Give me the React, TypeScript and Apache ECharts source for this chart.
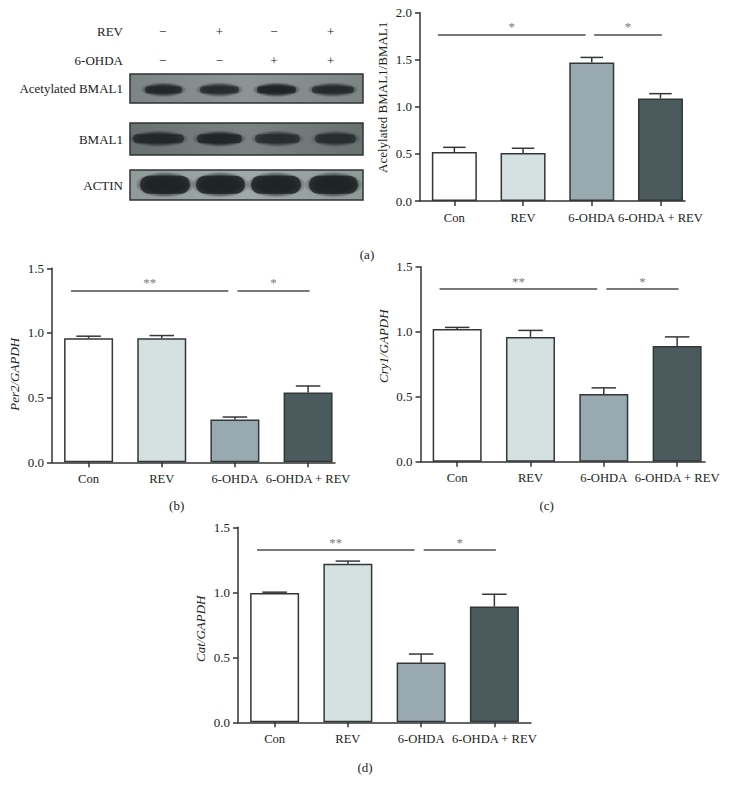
import React, { useEffect, useRef } from 'react';
import * as echarts from 'echarts';

// ---------- data ----------
const categories = ['Con', 'REV', '6-OHDA', '6-OHDA + REV'];
const barColors = ['#ffffff', '#d5e0e0', '#98a9af', '#4a5a5d'];
const catIndex = [0, 1, 2, 3];

const acetylMean = [0.52, 0.51, 1.47, 1.09];
const acetylErr = [0.05, 0.05, 0.055, 0.05];
const per2Mean = [0.96, 0.96, 0.33, 0.54];
const per2Err = [0.015, 0.02, 0.02, 0.05];
const cry1Mean = [1.02, 0.96, 0.52, 0.89];
const cry1Err = [0.013, 0.05, 0.048, 0.07];
const catMean = [0.995, 1.22, 0.46, 0.89];
const catErr = [0.006, 0.02, 0.065, 0.095];

const sigSpans = [[-0.24, 1.91], [2.035, 3.02]];
const sigLabelsA = ['*', '*'];
const sigLabelsBCD = ['**', '*'];

const blotLabels = ['Acetylated BMAL1', 'BMAL1', 'ACTIN'];
const revSigns = ['\u2212', '+', '\u2212', '+'];
const ohdaSigns = ['\u2212', '\u2212', '+', '+'];
const bandDarkness = [
  [0.85, 0.78, 0.95, 0.8],
  [0.85, 0.9, 0.72, 0.72],
  [1, 1, 1, 1],
];

const FONT = '"Liberation Serif", "Times New Roman", serif';
const AXIS = '#333';
const TEXT = '#222';
const SIG = '#7a7a7a';

type Panel = {
  mean: number[];
  err: number[];
  name: string;
  italic: boolean;
  yMax: number;
  sigY: number;
  sigLabels: string[];
  grid: { left: number; top: number; width: number; height: number };
  xMax: number;
  barWidth: number;
  namePad: number[];
};

const panels: Panel[] = [
  { mean: acetylMean, err: acetylErr, name: 'Acelylated BMAL1/BMAL1', italic: false, yMax: 2, sigY: 1.77, sigLabels: sigLabelsA,
    grid: { left: 420, top: 12.7, width: 265, height: 188.3 }, xMax: 3.357, barWidth: 45, namePad: [0, 0, 0, 19] },
  { mean: per2Mean, err: per2Err, name: 'Per2/GAPDH', italic: true, yMax: 1.5, sigY: 1.33, sigLabels: sigLabelsBCD,
    grid: { left: 52, top: 268.3, width: 283, height: 194 }, xMax: 3.368, barWidth: 49, namePad: [0, 18, 0, 0] },
  { mean: cry1Mean, err: cry1Err, name: 'Cry1/GAPDH', italic: true, yMax: 1.5, sigY: 1.33, sigLabels: sigLabelsBCD,
    grid: { left: 420.5, top: 266.7, width: 284.5, height: 195 }, xMax: 3.38, barWidth: 49, namePad: [0, 0, 0, 36] },
  { mean: catMean, err: catErr, name: 'Cat/GAPDH', italic: true, yMax: 1.5, sigY: 1.325, sigLabels: sigLabelsBCD,
    grid: { left: 238, top: 527.3, width: 293, height: 195 }, xMax: 3.5, barWidth: 49, namePad: [0, 8, 0, 0] },
];

function buildBlot(): any[] {
  const els: any[] = [];
  const blots = [
    { y: 74, h: 29, bg: ['#8c9593', '#7c8584'], bandY: 89.7, bandH: 9,
      lanes: [[143, 184], [198, 241], [255, 298], [310, 356]] },
    { y: 123, h: 32, bg: ['#7a8382', '#687170'], bandY: 138.7, bandH: 11,
      lanes: [[131, 186], [195, 244], [253, 302], [313, 358]] },
    { y: 170, h: 30, bg: ['#a0aaa8', '#909a98'], bandY: 184.7, bandH: 20,
      lanes: [[138, 192], [194, 247], [249, 303], [307, 360]] },
  ];
  blots.forEach((b, bi) => {
    els.push({
      type: 'rect',
      shape: { x: 130, y: b.y, width: 233, height: b.h },
      style: {
        fill: new echarts.graphic.LinearGradient(0, 0, 1, 0, [
          { offset: 0, color: b.bg[1] },
          { offset: 0.5, color: b.bg[0] },
          { offset: 1, color: b.bg[1] },
        ]),
        stroke: '#2e3333',
        lineWidth: 1.5,
      },
      z: 1,
    });
    b.lanes.forEach((ln, li) => {
      const d = bandDarkness[bi][li];
      const w = ln[1] - ln[0];
      els.push({
        type: 'ellipse',
        shape: { cx: ln[0] + w / 2, cy: b.bandY, rx: w / 2 + 3, ry: b.bandH / 2 + 3 },
        style: {
          fill: new echarts.graphic.RadialGradient(0.5, 0.5, 0.5, [
            { offset: 0, color: `rgba(30,35,36,${d})` },
            { offset: 0.6, color: `rgba(30,35,36,${d * 0.9})` },
            { offset: 1, color: 'rgba(30,35,36,0)' },
          ]),
        },
        z: 2,
      });
      els.push({
        type: 'rect',
        shape: { x: ln[0] + 2, y: b.bandY - b.bandH / 2 + 1, width: w - 4, height: b.bandH - 2, r: (b.bandH - 2) / 2 },
        style: { fill: `rgba(30,35,36,${d * 0.85})` },
        z: 2,
      });
    });
    els.push({
      type: 'text',
      x: 123, y: b.y + b.h / 2,
      style: { text: blotLabels[bi], font: `13px ${FONT}`, fill: TEXT, align: 'right', verticalAlign: 'middle' },
      z: 3,
    });
  });
  const laneX = [162.7, 219.3, 274, 330.7];
  els.push({ type: 'text', x: 123, y: 31.7, style: { text: 'REV', font: `13px ${FONT}`, fill: TEXT, align: 'right', verticalAlign: 'middle' } });
  els.push({ type: 'text', x: 123, y: 60.7, style: { text: '6-OHDA', font: `13px ${FONT}`, fill: TEXT, align: 'right', verticalAlign: 'middle' } });
  laneX.forEach((x, i) => {
    els.push({ type: 'text', x, y: 31.7, style: { text: revSigns[i], font: `13px ${FONT}`, fill: TEXT, align: 'center', verticalAlign: 'middle' } });
    els.push({ type: 'text', x, y: 60.7, style: { text: ohdaSigns[i], font: `13px ${FONT}`, fill: TEXT, align: 'center', verticalAlign: 'middle' } });
  });
  const letters = [['(a)', 367, 254], ['(b)', 176.7, 505], ['(c)', 546.7, 505], ['(d)', 365, 767]];
  letters.forEach(([t, x, y]) => {
    els.push({ type: 'text', x, y, style: { text: t, font: `13px ${FONT}`, fill: TEXT, align: 'center', verticalAlign: 'middle' } });
  });
  return els;
}

export default function App() {
  const ref = useRef<HTMLDivElement>(null);
  useEffect(() => {
    document.body.style.margin = '0';
    if (!ref.current) return;
    const chart = echarts.init(ref.current, undefined, { renderer: 'svg' });

    const grid = panels.map((p) => ({ ...p.grid, containLabel: false }));
    const xAxis = panels.map((p, i) => ({
      type: 'value',
      gridIndex: i,
      min: -0.5,
      max: p.xMax,
      axisLine: { show: true, onZero: false, lineStyle: { color: AXIS, width: 1.5 } },
      axisTick: { show: true, length: 5, lineStyle: { color: AXIS, width: 1.5 }, customValues: catIndex },
      axisLabel: {
        show: true, customValues: catIndex, margin: 10,
        formatter: (v: number) => categories[Math.round(v)] ?? '',
        fontFamily: FONT, fontSize: 12.6, color: TEXT,
      },
      splitLine: { show: false },
    }));
    const yAxis = panels.map((p, i) => ({
      type: 'value',
      gridIndex: i,
      min: 0,
      max: p.yMax,
      interval: 0.5,
      name: p.name,
      nameLocation: 'middle',
      nameGap: 31,
      nameTextStyle: { fontFamily: FONT, fontSize: 13, color: TEXT, fontStyle: p.italic ? 'italic' : 'normal', padding: p.namePad },
      axisLine: { show: true, onZero: false, lineStyle: { color: AXIS, width: 1.5 } },
      axisTick: { show: true, length: 5, lineStyle: { color: AXIS, width: 1.5 } },
      axisLabel: { fontFamily: FONT, fontSize: 13, color: TEXT, margin: 8, formatter: (v: number) => v.toFixed(1) },
      splitLine: { show: false },
    }));

    const series: any[] = [];
    panels.forEach((p, i) => {
      series.push({
        type: 'bar',
        xAxisIndex: i,
        yAxisIndex: i,
        barWidth: p.barWidth,
        data: p.mean.map((v, k) => ({
          value: [k, v],
          itemStyle: { color: barColors[k], borderColor: '#333738', borderWidth: 1.5 },
        })),
        markLine: {
          silent: true,
          symbol: ['none', 'none'],
          itemStyle: { color: SIG },
          lineStyle: { color: SIG, width: 2, type: 'solid' },
          label: { show: true, position: 'middle', formatter: '{b}', color: SIG, fontFamily: FONT, fontSize: 13, distance: 1 },
          emphasis: { disabled: true },
          data: sigSpans.map((s, k) => [
            {
              coord: [s[0], p.sigY],
              name: p.sigLabels[k],
              itemStyle: { color: SIG },
              lineStyle: { color: SIG, width: 2 },
              label: { color: SIG },
            },
            { coord: [s[1], p.sigY] },
          ]),
        },
      });
      const hw = p.barWidth / 4;
      series.push({
        type: 'custom',
        xAxisIndex: i,
        yAxisIndex: i,
        z: 3,
        encode: { x: 0, y: 1 },
        data: p.mean.map((v, k) => [k, v, p.err[k]]),
        renderItem: (params: any, api: any) => {
          const x = api.value(0);
          const m = api.value(1);
          const e = api.value(2);
          const p0 = api.coord([x, m]);
          const p1 = api.coord([x, m + e]);
          const st = { stroke: '#333738', lineWidth: 1.5 };
          return {
            type: 'group',
            children: [
              { type: 'line', shape: { x1: p0[0], y1: p0[1], x2: p1[0], y2: p1[1] }, style: st },
              { type: 'line', shape: { x1: p1[0] - hw, y1: p1[1], x2: p1[0] + hw, y2: p1[1] }, style: st },
            ],
          };
        },
      });
    });

    chart.setOption({
      animation: false,
      backgroundColor: '#ffffff',
      grid,
      xAxis,
      yAxis,
      series,
      graphic: buildBlot(),
    });
    return () => chart.dispose();
  }, []);
  return <div ref={ref} style={{ width: 735, height: 791 }} />;
}
